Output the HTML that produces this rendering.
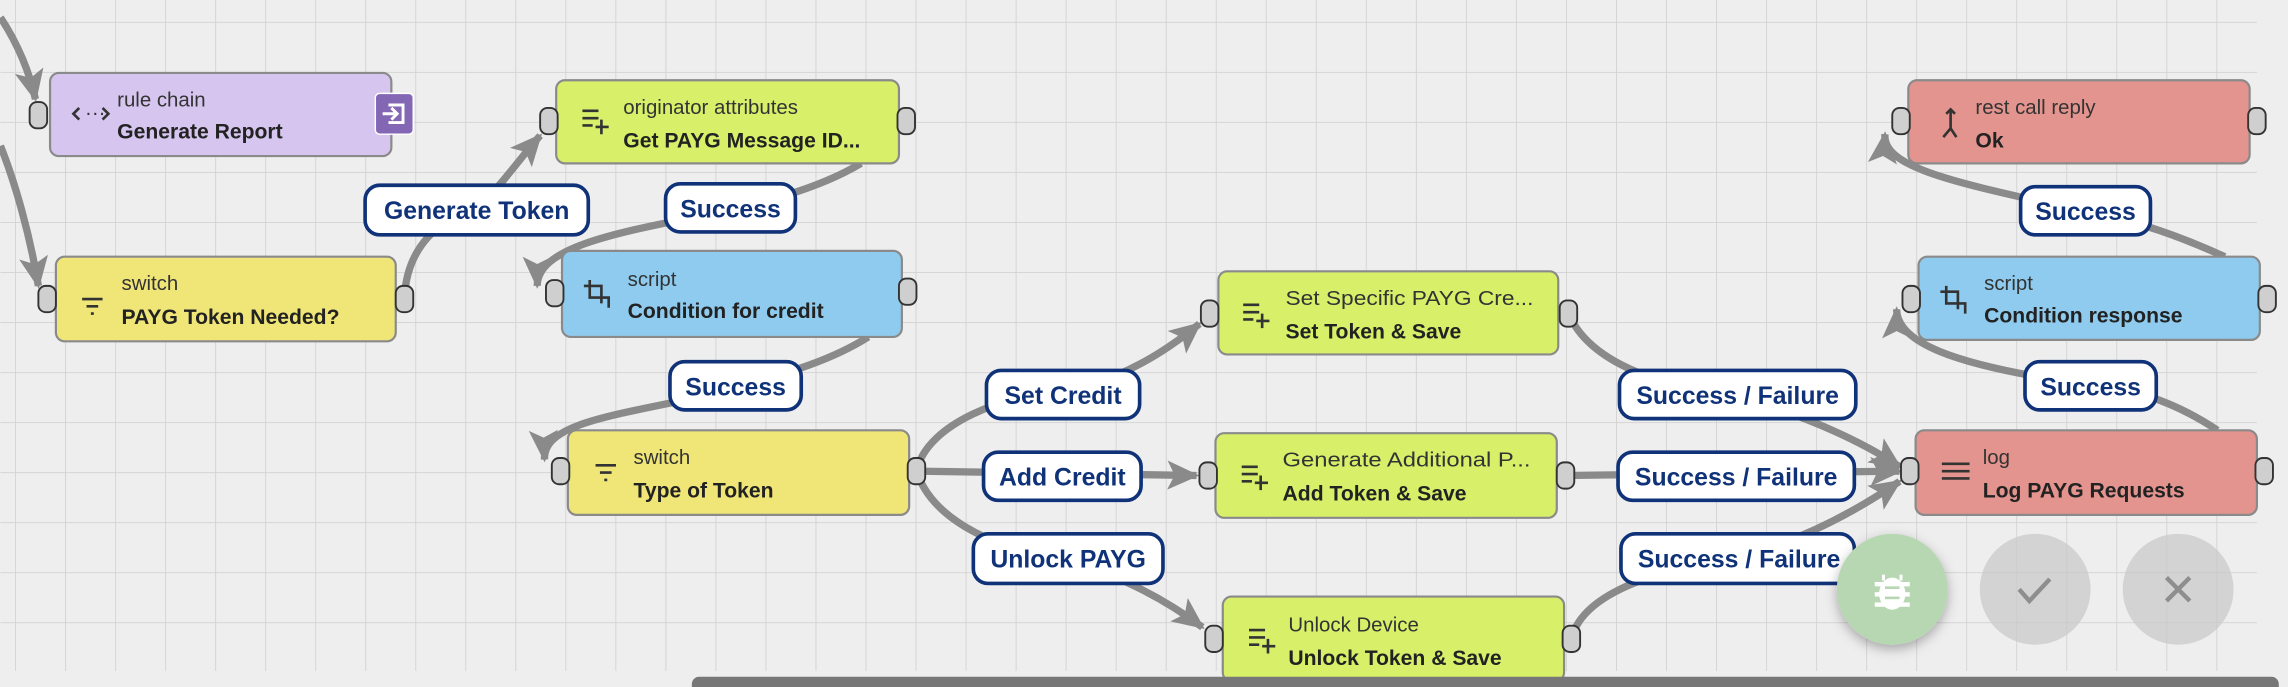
<!DOCTYPE html>
<html><head><meta charset="utf-8"><style>
html,body{margin:0;padding:0;background:#eeeeee;overflow:hidden}
svg{display:block}
text{font-family:"Liberation Sans",sans-serif}
.t1{font-size:14px;fill:#333}
.t2{font-size:14.5px;font-weight:bold;fill:#222}
.lb{fill:#fff;stroke:#0f3278;stroke-width:2.5}
.lt{font-size:17px;font-weight:bold;fill:#0f3278;text-anchor:middle}
.e{fill:none;stroke:#8a8a8a;stroke-width:5}
.n{stroke:#8a8a8a;stroke-width:1.5}
.h{fill:#cfcfcf;stroke:#333;stroke-width:1.3}
</style></head><body>
<svg width="2288" height="687" viewBox="0 0 1568 471" xmlns="http://www.w3.org/2000/svg">
<defs>
<pattern id="g" x="10" y="15" width="34.3" height="34.3" patternUnits="userSpaceOnUse">
<path d="M0 0H34.3M0 0V34.3" stroke="#d2d2d2" stroke-width="1.2" fill="none"/>
</pattern>
<marker id="a" markerUnits="userSpaceOnUse" markerWidth="30" markerHeight="30" refX="20" refY="10" orient="auto">
<path d="M0 0L22 10L0 20L5 10Z" fill="#8a8a8a"/>
</marker>
<filter id="sh" x="-50%" y="-50%" width="200%" height="200%"><feDropShadow dx="0" dy="3" stdDeviation="4" flood-color="#000" flood-opacity="0.3"/></filter>
</defs>
<rect width="1568" height="471" fill="#eeeeee"/>
<rect x="0" y="0" width="1547" height="460" fill="url(#g)"/>

<!-- edges -->
<path class="e" d="M0 12 C12 30 20 50 24 68" marker-end="url(#a)"/>
<path class="e" d="M0 100 C10 125 20 160 26 196" marker-end="url(#a)"/>
<path class="e" d="M277 205 C278 170 300 150 330 140 C345 125 355 110 370 93" marker-end="url(#a)"/>
<path class="e" d="M590 112 C560 130 520 140 480 148 C420 160 368 170 368 196" marker-end="url(#a)"/>
<path class="e" d="M595 231 C565 250 530 258 490 270 C420 285 372 290 373 315" marker-end="url(#a)"/>
<path class="e" d="M628 323 C635 290 690 270 730 268 C770 260 800 240 822 222" marker-end="url(#a)"/>
<path class="e" d="M628 323 L820 326" marker-end="url(#a)"/>
<path class="e" d="M628 323 C640 360 690 378 730 384 C770 395 800 412 824 430" marker-end="url(#a)"/>
<path class="e" d="M1075 215 C1090 250 1140 265 1190 272 C1240 285 1280 305 1302 320" marker-end="url(#a)"/>
<path class="e" d="M1073 326 L1302 323" marker-end="url(#a)"/>
<path class="e" d="M1077 438 C1085 405 1140 390 1190 382 C1240 370 1280 345 1302 330" marker-end="url(#a)"/>
<path class="e" d="M1520 295 C1490 275 1460 265 1420 262 C1340 250 1300 235 1300 212" marker-end="url(#a)"/>
<path class="e" d="M1525 176 C1490 160 1460 150 1420 143 C1340 125 1290 115 1292 92" marker-end="url(#a)"/>

<!-- nodes -->
<rect class="n" x="34" y="50" width="234" height="57" rx="6" fill="#d6c6ef"/>
<rect class="n" x="38" y="176" width="233" height="58" rx="6" fill="#f0e678"/>
<rect class="n" x="381" y="55" width="235" height="57" rx="6" fill="#d8ef6a"/>
<rect class="n" x="385" y="172" width="233" height="59" rx="6" fill="#8ecbee"/>
<rect class="n" x="389" y="295" width="234" height="58" rx="6" fill="#f0e678"/>
<rect class="n" x="835" y="186" width="233" height="57" rx="6" fill="#d8ef6a"/>
<rect class="n" x="833" y="297" width="234" height="58" rx="6" fill="#d8ef6a"/>
<rect class="n" x="838" y="409" width="234" height="58" rx="6" fill="#d8ef6a"/>
<rect class="n" x="1308" y="55" width="234" height="57" rx="6" fill="#e4948e"/>
<rect class="n" x="1315" y="176" width="234" height="57" rx="6" fill="#8ecbee"/>
<rect class="n" x="1313" y="295" width="234" height="58" rx="6" fill="#e4948e"/>

<!-- rule chain button -->
<rect x="257" y="64" width="26" height="28" rx="3" fill="#8366b4" stroke="#fff" stroke-width="1"/>
<path d="M266 72h10v12h-10M262 78h9M268 74l4 4l-4 4" stroke="#fff" stroke-width="2" fill="none"/>

<!-- handles -->
<g class="h">
<rect x="20" y="70" width="12" height="18" rx="5"/>
<rect x="26" y="196" width="12" height="18" rx="5"/><rect x="271" y="196" width="12" height="18" rx="5"/>
<rect x="370" y="74" width="12" height="18" rx="5"/><rect x="615" y="74" width="12" height="18" rx="5"/>
<rect x="374" y="192" width="12" height="18" rx="5"/><rect x="616" y="191" width="12" height="18" rx="5"/>
<rect x="378" y="314" width="12" height="18" rx="5"/><rect x="622" y="314" width="12" height="18" rx="5"/>
<rect x="823" y="206" width="12" height="18" rx="5"/><rect x="1069" y="206" width="12" height="18" rx="5"/>
<rect x="822" y="317" width="12" height="18" rx="5"/><rect x="1067" y="317" width="12" height="18" rx="5"/>
<rect x="826" y="429" width="12" height="18" rx="5"/><rect x="1071" y="429" width="12" height="18" rx="5"/>
<rect x="1297" y="74" width="12" height="18" rx="5"/><rect x="1541" y="74" width="12" height="18" rx="5"/>
<rect x="1304" y="196" width="12" height="18" rx="5"/><rect x="1548" y="196" width="12" height="18" rx="5"/>
<rect x="1303" y="314" width="12" height="18" rx="5"/><rect x="1546" y="314" width="12" height="18" rx="5"/>
</g>

<!-- icons -->
<g fill="none" stroke="#333" stroke-width="1.8">
<path d="M54 74l-4 4l4 4M70 74l4 4l-4 4"/>
<path d="M56 205h14M59 210h8M62 215h2"/>
<path d="M408 319h14M411 324h8M414 329h2"/>
<path d="M399 76h11M399 81h11M399 86h7M412 82v10M408 87h9"/>
<path d="M852 209h11M852 214h11M852 219h7M865 215v10M861 220h9"/>
<path d="M851 320h11M851 325h11M851 330h7M864 326v10M860 331h9"/>
<path d="M856 432h11M856 437h11M856 442h7M869 438v10M865 443h9"/>
<path d="M404 192v12h13v7M400 196h12v12"/>
<path d="M1334 196v12h13v7M1330 200h12v12"/>
<path d="M1331 318h19M1331 323h19M1331 328h19"/>
<path d="M1337 75v13l-5 6M1337 88l4 6M1334 78l3-3l3 3"/>
</g>
<text x="58" y="82" class="t1" font-size="10">···</text>

<!-- node text -->
<text x="80" y="73" class="t1">rule chain</text><text x="80" y="95" class="t2">Generate Report</text>
<text x="83" y="199" class="t1">switch</text><text x="83" y="222" class="t2">PAYG Token Needed?</text>
<text x="427" y="78" class="t1">originator attributes</text><text x="427" y="101" class="t2">Get PAYG Message ID...</text>
<text x="430" y="196" class="t1">script</text><text x="430" y="218" class="t2">Condition for credit</text>
<text x="434" y="318" class="t1">switch</text><text x="434" y="341" class="t2">Type of Token</text>
<text x="881" y="209" class="t1" textLength="170" lengthAdjust="spacingAndGlyphs">Set Specific PAYG Cre...</text><text x="881" y="232" class="t2">Set Token &amp; Save</text>
<text x="879" y="320" class="t1" textLength="170" lengthAdjust="spacingAndGlyphs">Generate Additional P...</text><text x="879" y="343" class="t2">Add Token &amp; Save</text>
<text x="883" y="433" class="t1">Unlock Device</text><text x="883" y="456" class="t2">Unlock Token &amp; Save</text>
<text x="1354" y="78" class="t1">rest call reply</text><text x="1354" y="101" class="t2">Ok</text>
<text x="1360" y="199" class="t1">script</text><text x="1360" y="221" class="t2">Condition response</text>
<text x="1359" y="318" class="t1">log</text><text x="1359" y="341" class="t2">Log PAYG Requests</text>

<!-- labels -->
<rect class="lb" x="250" y="127" width="153" height="34" rx="10"/><text class="lt" x="326.5" y="150">Generate Token</text>
<rect class="lb" x="456" y="126" width="89" height="33" rx="10"/><text class="lt" x="500.5" y="149">Success</text>
<rect class="lb" x="459" y="248" width="90" height="33" rx="10"/><text class="lt" x="504" y="271">Success</text>
<rect class="lb" x="676" y="254" width="105" height="33" rx="10"/><text class="lt" x="728.5" y="277">Set Credit</text>
<rect class="lb" x="674" y="310" width="108" height="33" rx="10"/><text class="lt" x="728" y="333">Add Credit</text>
<rect class="lb" x="667" y="366" width="130" height="34" rx="10"/><text class="lt" x="732" y="389">Unlock PAYG</text>
<rect class="lb" x="1110" y="254" width="162" height="33" rx="10"/><text class="lt" x="1191" y="277">Success / Failure</text>
<rect class="lb" x="1109" y="310" width="162" height="33" rx="10"/><text class="lt" x="1190" y="333">Success / Failure</text>
<rect class="lb" x="1111" y="366" width="160" height="34" rx="10"/><text class="lt" x="1192" y="389">Success / Failure</text>
<rect class="lb" x="1385" y="128" width="89" height="33" rx="10"/><text class="lt" x="1429.5" y="151">Success</text>
<rect class="lb" x="1388" y="248" width="90" height="33" rx="10"/><text class="lt" x="1433" y="271">Success</text>

<!-- buttons -->
<circle cx="1297" cy="404" r="38" fill="#b7d7b2" filter="url(#sh)"/>
<g fill="#fff"><ellipse cx="1297" cy="407" rx="9" ry="11"/><rect x="1285" y="399" width="24" height="3"/><rect x="1285" y="406" width="24" height="3"/><rect x="1285" y="413" width="24" height="3"/><rect x="1290" y="394" width="2" height="4"/><rect x="1302" y="394" width="2" height="4"/></g>
<rect x="1292" y="402" width="10" height="1.8" fill="#b7d7b2"/><rect x="1292" y="409" width="10" height="1.8" fill="#b7d7b2"/>
<circle cx="1395" cy="404" r="38" fill="#c8c8c8" fill-opacity="0.7"/>
<path d="M1384 404l7 8l14-15" stroke="#8e8e8e" stroke-width="3" fill="none"/>
<circle cx="1493" cy="404" r="38" fill="#c8c8c8" fill-opacity="0.7"/>
<path d="M1485 396l16 16M1501 396l-16 16" stroke="#8e8e8e" stroke-width="3"/>

<rect x="474" y="464" width="1088" height="12" rx="5" fill="#777"/>
</svg>
</body></html>
